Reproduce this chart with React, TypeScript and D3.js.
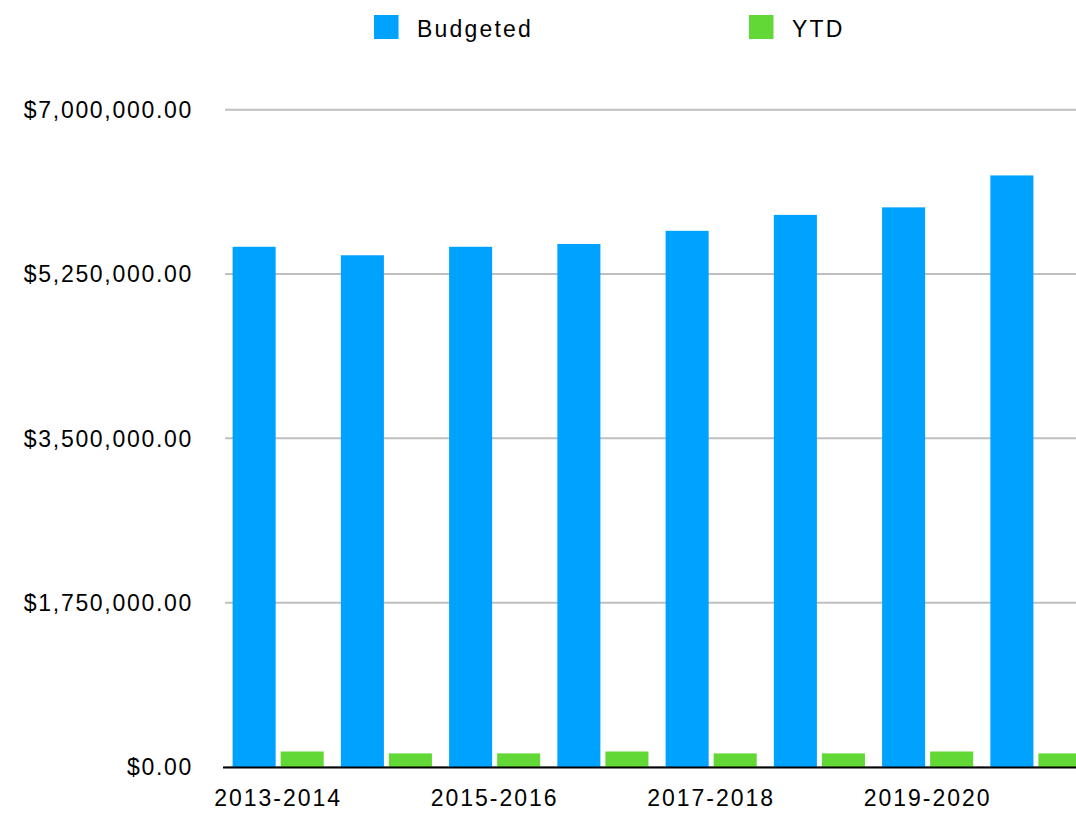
import React from "react";
import * as d3 from "d3";

const categories = ["2013-2014", "2014-2015", "2015-2016", "2016-2017", "2017-2018", "2018-2019", "2019-2020", "2020-2021"];
const budgeted = [5540000, 5450000, 5540000, 5570000, 5710000, 5880000, 5960000, 6300000];
const ytd = [165000, 145000, 145000, 165000, 145000, 145000, 165000, 145000];
const seriesNames = ["Budgeted", "YTD"];
const seriesColors = ["#00A2FF", "#61D836"];
const yTicks = [0, 1750000, 3500000, 5250000, 7000000];
const shownLabels = ["2013-2014", "2015-2016", "2017-2018", "2019-2020"];

const W = 1076;
const H = 823;
const FONT = "'Liberation Sans', Arial, Helvetica, sans-serif";

export default function App() {
  const x = d3.scaleBand<string>().domain(categories).range([224, 1090]).paddingInner(0).paddingOuter(0);
  const inner = d3.scaleBand<string>().domain(seriesNames).range([8.6, 99.7]).paddingInner(0.104).paddingOuter(0);
  const y = d3.scaleLinear().domain([0, 7000000]).range([767, 109.7]);
  const fmt = (v: number) => "$" + d3.format(",.2f")(v);
  const data = [budgeted, ytd];

  return (
    <svg width={W} height={H} style={{ position: "absolute", left: 0, top: 0, background: "#fff" }} fontFamily={FONT}>
      {/* legend */}
      {seriesNames.map((s, i) => {
        const lx = i === 0 ? 374 : 749;
        return (
          <g key={s}>
            <rect x={lx} y={15} width={24.5} height={24} fill={seriesColors[i]} />
            <text x={lx + 43} y={36.5} fontSize={23} letterSpacing={2.2} fill="#000">{s}</text>
          </g>
        );
      })}
      {/* gridlines */}
      {yTicks.map((t) => (
        <line key={t} x1={225} x2={W} y1={y(t)} y2={y(t)} stroke="#bfbfbf" strokeWidth={2} />
      ))}
      {/* y labels */}
      {yTicks.map((t) => (
        <text key={"l" + t} x={193} y={y(t) + 8.3} textAnchor="end" fontSize={23} letterSpacing={1.7} fill="#000">
          {fmt(t)}
        </text>
      ))}
      {/* bars */}
      {categories.map((c, ci) => (
        <g key={c} transform={`translate(${x(c)},0)`}>
          {seriesNames.map((s, si) => (
            <rect
              key={s}
              x={inner(s)}
              y={y(data[si][ci])}
              width={inner.bandwidth()}
              height={y(0) - y(data[si][ci])}
              fill={seriesColors[si]}
            />
          ))}
        </g>
      ))}
      {/* x axis line */}
      <line x1={223} x2={W} y1={767.5} y2={767.5} stroke="#000" strokeWidth={2.2} />
      {/* x labels */}
      {categories.map((c) =>
        shownLabels.includes(c) ? (
          <text key={"x" + c} x={(x(c) as number) + x.bandwidth() / 2} y={805.5} textAnchor="middle" fontSize={23} letterSpacing={2} fill="#000">
            {c}
          </text>
        ) : null
      )}
    </svg>
  );
}
